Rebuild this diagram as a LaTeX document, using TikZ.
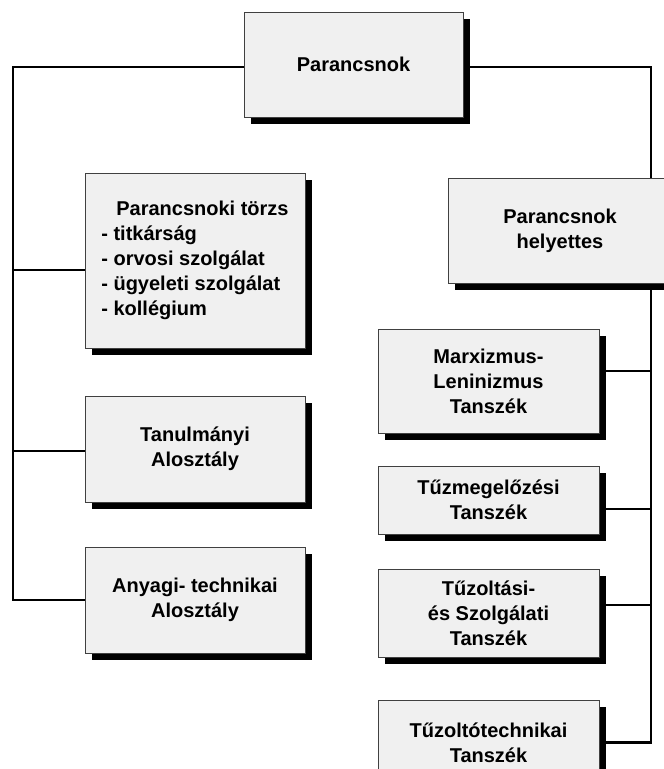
\documentclass[tikz,border=0pt]{standalone}
\usepackage{fontspec}
\setmainfont{Liberation Sans}
\usetikzlibrary{shadows}
\definecolor{boxfill}{HTML}{F0F0F0}
\pgfdeclarelayer{back}
\pgfdeclarelayer{bg}
\pgfsetlayers{back,bg,main}
\tikzset{
  unit/.style={draw=black!75, line width=0.8pt, fill=boxfill,
    drop shadow={shadow xshift=7pt, shadow yshift=-7pt, fill=black, opacity=1},
    font=\fontsize{20}{25}\selectfont\bfseries, align=center, inner sep=0pt},
  link/.style={line width=2.4pt, draw=black}
}
\begin{document}
\begin{tikzpicture}[x=1pt,y=-1pt]
\useasboundingbox (0,0) rectangle (664,769);
\clip (0,0) rectangle (664,769);
\begin{pgfonlayer}{back}
\fill[white] (0,0) rectangle (664,769);
\end{pgfonlayer}

\node[unit, minimum width=219pt, minimum height=105pt] (cmd) at (353.5,64.5) {Parancsnok};
\node[unit, minimum width=220pt, minimum height=175pt, align=left] (torzs) at (195,260.5)
  {\hspace*{15pt}Parancsnoki törzs\\- titkárság\\- orvosi szolgálat\\- ügyeleti szolgálat\\- kollégium};
\node[unit, minimum width=220pt, minimum height=106pt] (tanul) at (195,449) {Tanulmányi\\Alosztály};
\node[unit, minimum width=220pt, minimum height=106pt] (anyagi) at (195,600) {Anyagi- technikai\\Alosztály};
\node[unit, minimum width=224pt, minimum height=105pt] (hely) at (560,230.5) {Parancsnok\\helyettes};
\node[unit, minimum width=221pt, minimum height=104pt] (marx) at (488.5,381) {Marxizmus-\\Leninizmus\\Tanszék};
\node[unit, minimum width=221pt, minimum height=68pt] (tuzmeg) at (488.5,500) {Tűzmegelőzési\\Tanszék};
\node[unit, minimum width=221pt, minimum height=88pt] (tuzolt) at (488.5,613) {Tűzoltási-\\és Szolgálati\\Tanszék};
\node[unit, minimum width=221pt, minimum height=85pt] (tech) at (488.5,742.5) {Tűzoltótechnikai\\Tanszék};

\coordinate (ltrunk) at (13,300);
\coordinate (rtrunk) at (651,400);

\begin{pgfonlayer}{bg}
\path ([yshift=-2.5pt]cmd.west) coordinate (cl);
\path ([yshift=-2.5pt]cmd.east) coordinate (cr);
\path ([yshift=-9.5pt]torzs.west) coordinate (t1);
\path ([yshift=-2pt]tanul.west) coordinate (t2);
\path ([yshift=10pt]marx.east) coordinate (m1);
\path ([yshift=-9pt]tuzmeg.east) coordinate (m2);
\path ([yshift=8pt]tuzolt.east) coordinate (m3);
\draw[link] (cl) -| (ltrunk) |- (anyagi.west);
\draw[link] (t1) -- (t1 -| ltrunk);
\draw[link] (t2) -- (t2 -| ltrunk);
\draw[link] (cr) -| (rtrunk) |- (tech.east);
\draw[link] (m1) -- (m1 -| rtrunk);
\draw[link] (m2) -- (m2 -| rtrunk);
\draw[link] (m3) -- (m3 -| rtrunk);
\end{pgfonlayer}
\end{tikzpicture}
\end{document}
